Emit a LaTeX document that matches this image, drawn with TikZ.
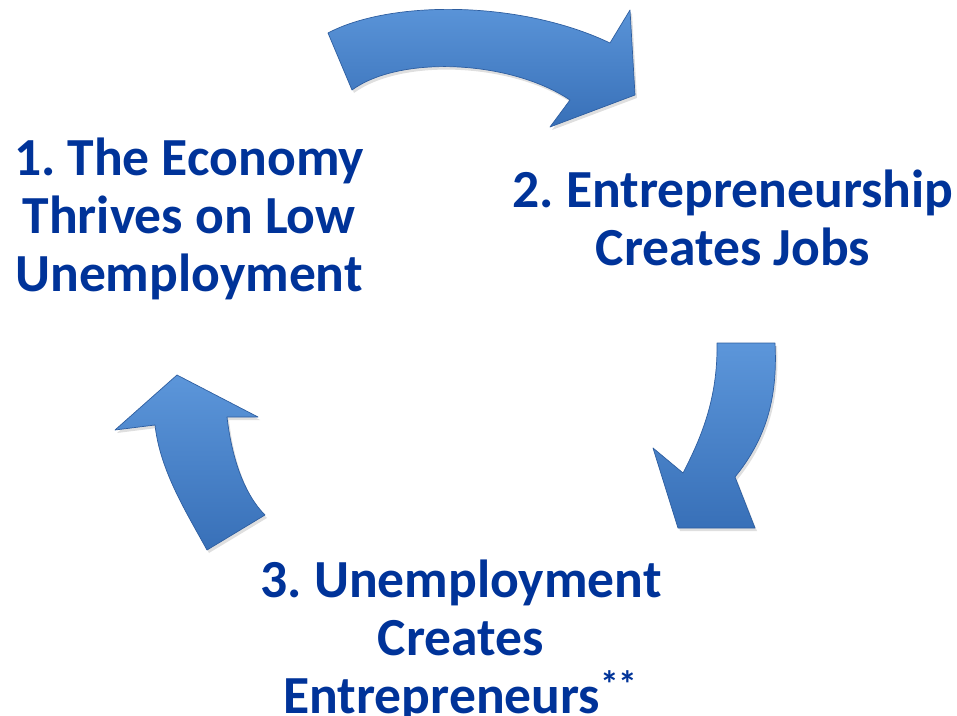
\documentclass[tikz,border=0pt]{standalone}
\usepackage{fontspec}
\setmainfont{Carlito}
\usepackage{tikz}
\usetikzlibrary{shadows}
\definecolor{textblue}{RGB}{0,51,153}
\definecolor{arrowlight}{RGB}{92,150,218}
\definecolor{arrowdark}{RGB}{56,112,184}
\definecolor{arrowedge}{RGB}{46,94,160}
\tikzstyle{stagetext}=[text=textblue,align=center,inner sep=0pt,font=\frenchspacing\bfseries\fontsize{30.5}{33}\selectfont]

\begin{document}
\begin{tikzpicture}[x=0.02cm,y=-0.02cm]

\tikzstyle{cyclearrow}=[top color=arrowlight, bottom color=arrowdark, draw=arrowedge, line width=0.4pt, line join=round, drop shadow={opacity=0.25,shadow xshift=0.04cm,shadow yshift=-0.06cm}]

\useasboundingbox (0,0) rectangle (957,716);

% the three stages
\node (t1) [stagetext] at (189,219) {1. The Economy\\ Thrives on Low\\ Unemployment};
\node (t2) [stagetext] at (733,218) {2. Entrepreneurship\\ Creates Jobs};
\node (t3) [stagetext] at (461,641) {3. Unemployment\\ Creates\\ Entrepreneurs\textsuperscript{**}};

% arrow from 1 to 2
\path[cyclearrow] (328,33) .. controls (390,0) and (520,0) .. (610,43)
   -- (630,10) -- (635,95) -- (550,127) -- (570,100)
   .. controls (510,60) and (400,55) .. (352,90) -- cycle;

% arrow from 2 to 3
\path[cyclearrow] (717,343) -- (775,343) .. controls (778,400) and (765,440) .. (735,477)
   -- (755,528) -- (678,528) -- (653,448) -- (683,473)
   .. controls (700,440) and (718,400) .. cycle;

% arrow from 3 to 1
\path[cyclearrow] (177,375) -- (258,417) -- (227,417)
   .. controls (232,460) and (245,495) .. (265,515) -- (207,550)
   .. controls (185,510) and (160,470) .. (155,425) -- (115,430) -- cycle;

\end{tikzpicture}
\end{document}
